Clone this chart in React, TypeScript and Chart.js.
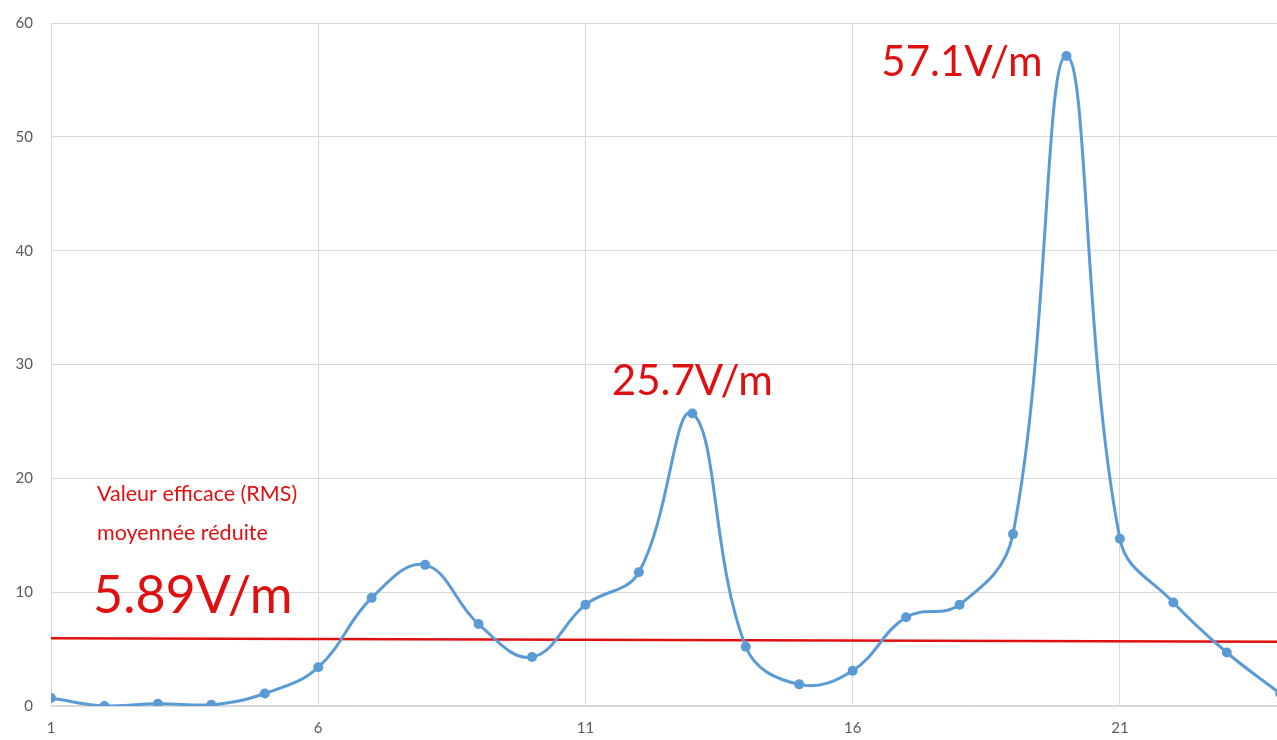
import React, { useEffect, useRef } from "react";
import { Chart, registerables } from "chart.js";

Chart.register(...registerables);

const categories = [1, 2, 3, 4, 5, 6, 7, 8, 9, 10, 11, 12, 13, 14, 15, 16, 17, 18, 19, 20, 21, 22, 23, 24];
const fieldValues = [0.7, 0.0, 0.2, 0.1, 1.1, 3.4, 9.5, 12.4, 7.2, 4.3, 8.9, 11.75, 25.7, 5.2, 1.9, 3.1, 7.8, 8.9, 15.1, 57.1, 14.7, 9.1, 4.7, 1.1];
const rmsX = [1, 24];
const rmsValues = [5.95, 5.65];
const xTicks = [1, 6, 11, 16, 21];
const yTicks = [0, 10, 20, 30, 40, 50, 60];

const RED = "#e01010";
const FONT = "Lato, 'Open Sans', sans-serif";

const annotationPlugin = {
  id: "annotations",
  afterDatasetsDraw(chart: any) {
    const { ctx, scales } = chart;
    const xs = scales.x;
    const ys = scales.y;
    ctx.save();
    ctx.fillStyle = RED;
    ctx.textBaseline = "middle";
    ctx.textAlign = "right";
    ctx.font = `42px ${FONT}`;
    ctx.fillText("57.1V/m", xs.getPixelForValue(20) - 24, ys.getPixelForValue(57.1) + 6);
    ctx.textAlign = "center";
    ctx.font = `42px ${FONT}`;
    ctx.fillText("25.7V/m", xs.getPixelForValue(13), ys.getPixelForValue(25.7) - 32);
    ctx.textAlign = "left";
    ctx.font = `21.5px ${FONT}`;
    const lx = xs.getPixelForValue(1) + 46;
    ctx.fillText("Valeur efficace (RMS)", lx, ys.getPixelForValue(20) + 16);
    ctx.fillText("moyennée réduite", lx, ys.getPixelForValue(20) + 55);
    ctx.font = `52px ${FONT}`;
    ctx.fillText("5.89V/m", lx - 4, ys.getPixelForValue(9.6));
    ctx.restore();
  },
};

export default function App() {
  const canvasRef = useRef<HTMLCanvasElement | null>(null);

  useEffect(() => {
    document.body.style.margin = "0";
    document.body.style.overflow = "hidden";
    const canvas = canvasRef.current;
    if (!canvas) return;
    const chart = new Chart(canvas, {
      type: "line",
      data: {
        datasets: [
          {
            label: "RMS",
            data: rmsX.map((x, i) => ({ x, y: rmsValues[i] })),
            borderColor: RED,
            borderWidth: 2.5,
            pointRadius: 0,
            tension: 0,
            order: 2,
          },
          {
            label: "Champ",
            data: categories.map((x, i) => ({ x, y: fieldValues[i] })),
            borderColor: "#5b9bd5",
            backgroundColor: "#5b9bd5",
            borderWidth: 3,
            pointRadius: 5,
            pointBorderWidth: 0,
            tension: 0.4,
            order: 1,
          },
        ],
      },
      options: {
        animation: false,
        responsive: false,
        maintainAspectRatio: false,
        layout: { padding: { top: 23, right: 0, left: 0, bottom: 0 } },
        plugins: {
          legend: { display: false },
          tooltip: { enabled: false },
          title: { display: false },
        },
        scales: {
          x: {
            type: "linear",
            min: 1,
            max: 23.94,
            afterBuildTicks: (scale: any) => {
              scale.ticks = xTicks.map((v) => ({ value: v }));
            },
            afterFit: (scale: any) => {
              scale.height = 34;
              scale.paddingRight = 0;
              scale.paddingLeft = 0;
            },
            grid: { color: "#d9d9d9", lineWidth: 1, drawTicks: false },
            border: { color: "#d9d9d9", width: 1.5 },
            ticks: {
              color: "#595959",
              font: { size: 15, family: FONT },
              padding: 13,
              maxRotation: 0,
              autoSkip: false,
            },
          },
          y: {
            min: 0,
            max: 60,
            afterBuildTicks: (scale: any) => {
              scale.ticks = yTicks.map((v) => ({ value: v }));
            },
            afterFit: (scale: any) => {
              scale.width = 51;
              scale.paddingTop = 0;
              scale.paddingBottom = 0;
            },
            grid: { color: "#d9d9d9", lineWidth: 1, drawTicks: false },
            border: { display: false },
            ticks: {
              color: "#595959",
              font: { size: 15, family: FONT },
              padding: 18,
            },
          },
        },
      },
      plugins: [annotationPlugin],
    } as any);
    return () => chart.destroy();
  }, []);

  return (
    <div style={{ width: 1277, height: 740, background: "#fff", overflow: "hidden" }}>
      <canvas ref={canvasRef} width={1282} height={740} style={{ display: "block" }} />
    </div>
  );
}
